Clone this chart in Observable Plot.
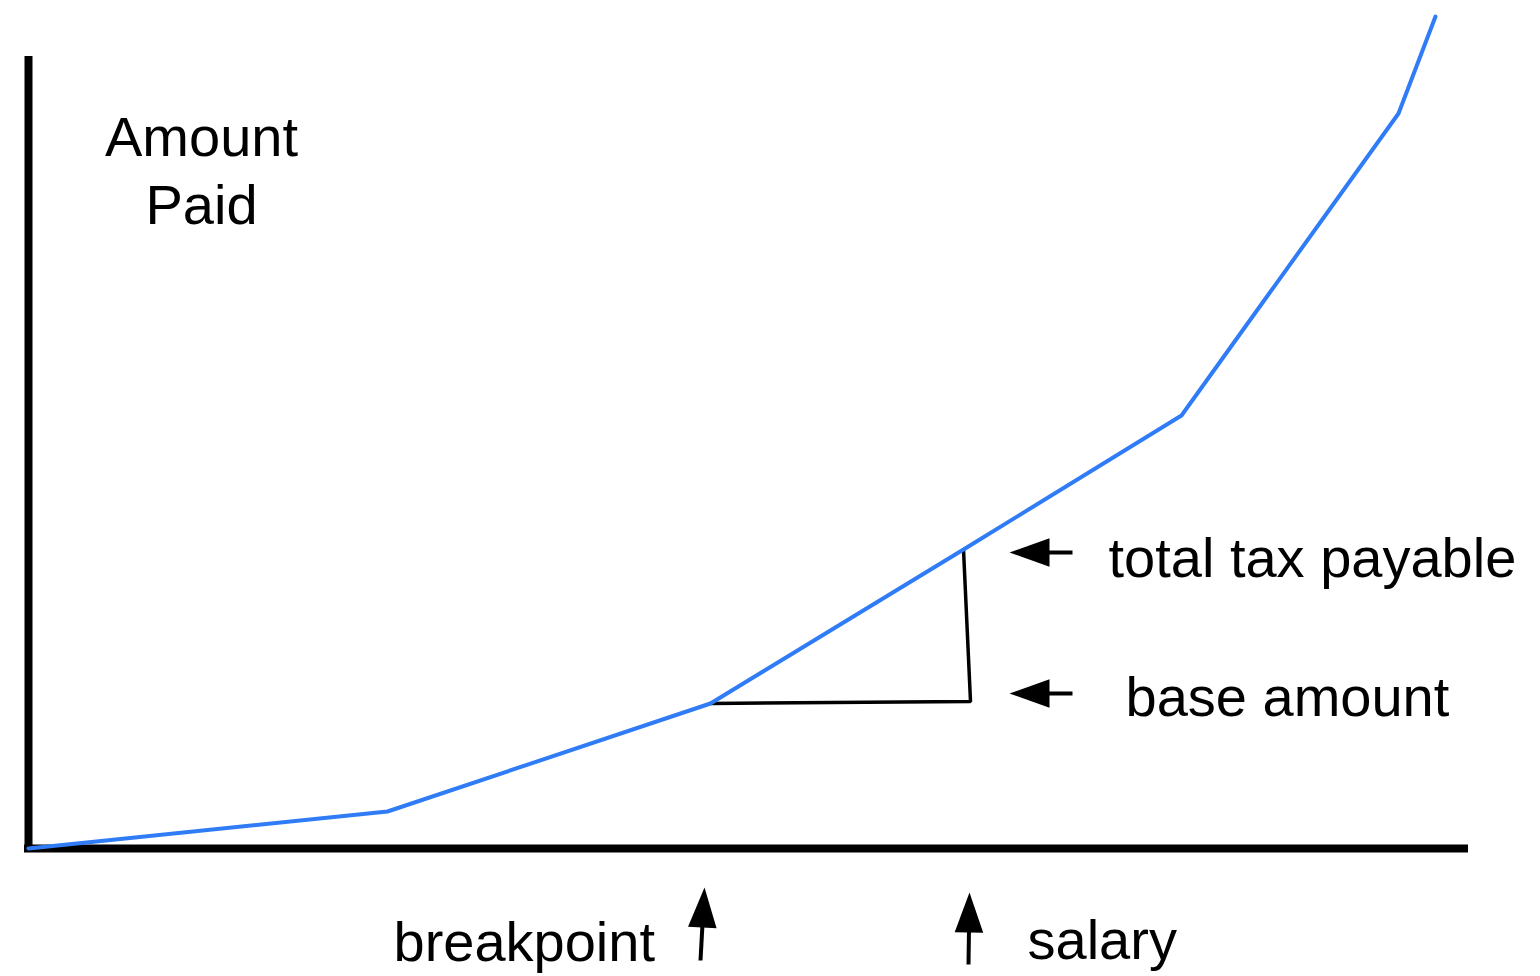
<!DOCTYPE html>
<html>
<head>
<meta charset="utf-8">
<script src="https://cdn.jsdelivr.net/npm/d3@7"></script>
<script src="https://cdn.jsdelivr.net/npm/@observablehq/plot@0.6"></script>
<style>
  html, body { margin: 0; padding: 0; background: #fff; }
  #chart svg { display: block; }
</style>
</head>
<body>
<div id="chart"></div>
<script>
// Tax curve (income vs. amount paid), in chart units with origin at the axes corner
const incomes = [0, 359, 682, 935, 1153, 1370, 1407];
const taxes   = [0, 37, 145, 299, 433, 735, 832];

// Breakpoint / salary triangle
const triIncome = [682, 942, 935];
const triTax    = [145, 147, 299];

// Annotation arrows (tail -> tip)
const arrowTailX = [1044, 1044, 672, 940];
const arrowTailY = [296, 155, -112, -116];
const arrowTipX  = [981, 981, 676, 941];
const arrowTipY  = [296, 155, -39, -44];

// Labels
const labelText = ["total tax payable", "base amount", "breakpoint", "salary"];
const labelX    = [1080, 1097, 365, 999];
const labelY    = [272, 133, -112, -110];

const yTitle = "Amount\nPaid";

const curve = incomes.map((x, i) => ({x, y: taxes[i]}));
const tri = triIncome.map((x, i) => ({x, y: triTax[i]}));
const arrows = arrowTailX.map((x1, i) => ({
  x1, y1: arrowTailY[i], x2: arrowTipX[i], y2: arrowTipY[i],
  angle: Math.atan2(arrowTipX[i] - x1, arrowTipY[i] - arrowTailY[i]) * 180 / Math.PI
}));
const labels = labelText.map((t, i) => ({t, x: labelX[i], y: labelY[i]}));

const headSymbol = {
  draw(ctx) {
    ctx.moveTo(0, 0);
    ctx.lineTo(14.3, 40);
    ctx.lineTo(-14.3, 40);
    ctx.closePath();
  }
};

const font = "'Liberation Sans', Arial, Helvetica, sans-serif";

const chart = Plot.plot({
  width: 1540,
  height: 976,
  margin: 0,
  style: {background: "#fff", color: "#000"},
  x: {domain: [-28, 1512], range: [0, 1540], axis: null},
  y: {domain: [-128, 848], range: [976, 0], axis: null},
  marks: [
    // axes
    Plot.ruleX([0], {y1: -4, y2: 792, stroke: "#000", strokeWidth: 8}),
    Plot.ruleY([0], {x1: -4, x2: 1440, stroke: "#000", strokeWidth: 8}),
    // triangle
    Plot.line(tri, {x: "x", y: "y", stroke: "#000", strokeWidth: 3.5, strokeLinejoin: "miter"}),
    // tax curve
    Plot.line(curve, {x: "x", y: "y", stroke: "#2f7cf6", strokeWidth: 4, strokeLinejoin: "miter"}),
    // arrows
    Plot.arrow(arrows, {x1: "x1", y1: "y1", x2: "x2", y2: "y2", headLength: 0, insetEnd: 20,
      stroke: "#000", strokeWidth: 4, strokeLinecap: "butt"}),
    Plot.dot(arrows, {x: "x2", y: "y2", symbol: headSymbol, rotate: "angle", fill: "#000", stroke: null}),
    // labels
    Plot.text(labels, {x: "x", y: "y", text: "t", textAnchor: "start", lineAnchor: "bottom",
      fontSize: 56, fontFamily: font, fill: "#000"}),
    Plot.text([yTitle], {x: 173, y: 625, text: d => d, textAnchor: "middle", lineAnchor: "bottom",
      lineHeight: 1.205, fontSize: 56, fontFamily: font, fill: "#000"})
  ]
});

document.getElementById("chart").appendChild(chart);
</script>
</body>
</html>
